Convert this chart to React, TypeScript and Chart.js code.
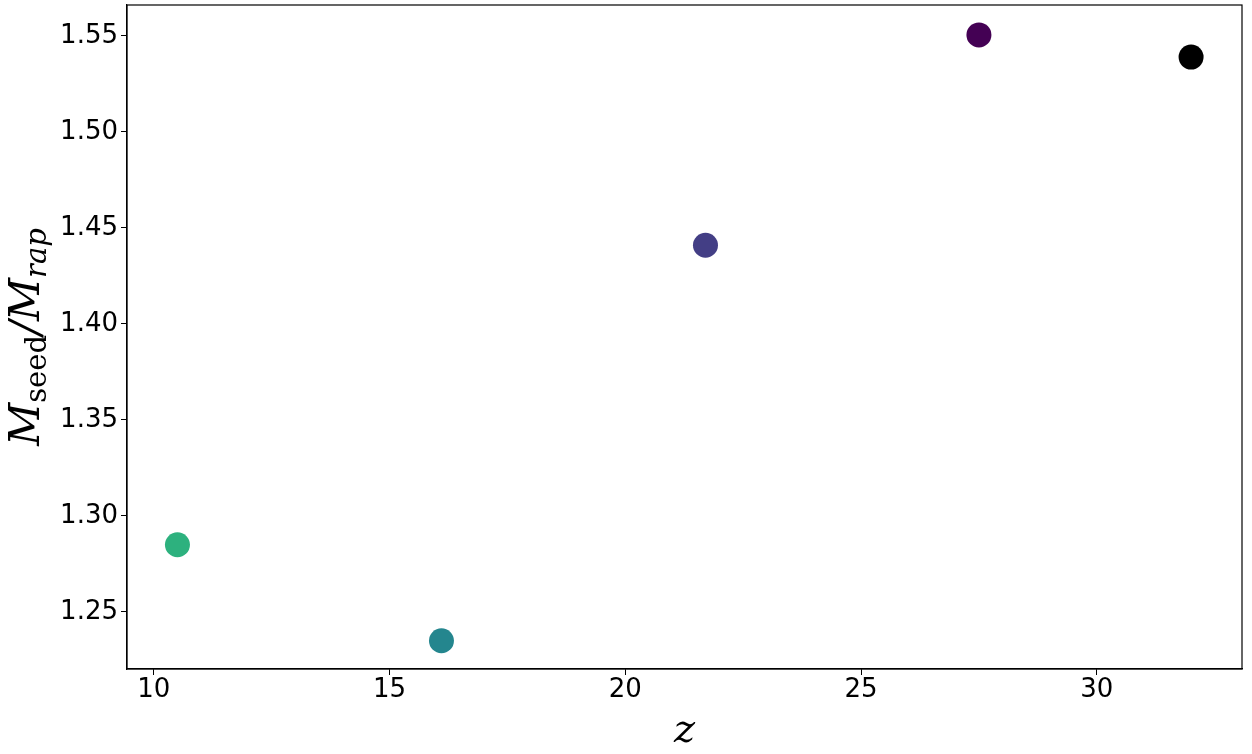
import React, { useEffect, useRef } from "react";
import { Chart, registerables } from "chart.js";

Chart.register(...registerables);

const zValues = [10.5, 16.1, 21.7, 27.5, 32.0];
const ratioValues = [1.285, 1.235, 1.441, 1.5505, 1.539];
const pointColors = ["#2db17e", "#24868e", "#433e85", "#440154", "#000000"];
const xTicks = [10, 15, 20, 25, 30];
const yTicks = [1.25, 1.3, 1.35, 1.4, 1.45, 1.5, 1.55];

const labelsPlugin = {
  id: "customLabels",
  afterDraw(chart: any) {
    const { ctx, chartArea } = chart;
    const { left, right, top, bottom } = chartArea;
    ctx.save();
    // frame
    ctx.strokeStyle = "#000";
    ctx.lineWidth = 1.2;
    ctx.strokeRect(left, top, right - left, bottom - top);

    // x label
    ctx.fillStyle = "#000";
    ctx.textAlign = "center";
    ctx.textBaseline = "alphabetic";
    ctx.font = "italic 40px 'DejaVu Serif', serif";
    ctx.fillText("z", (left + right) / 2, 742);

    // y label, rotated
    ctx.translate(25, (top + bottom) / 2);
    ctx.rotate(-Math.PI / 2);
    const parts = [
      { t: "M", f: "italic 42px 'DejaVu Serif', serif", dy: 0 },
      { t: "seed", f: "29px 'DejaVu Serif', serif", dy: 7 },
      { t: "/M", f: "italic 42px 'DejaVu Serif', serif", dy: 0 },
      { t: "rap", f: "italic 29px 'DejaVu Serif', serif", dy: 7 },
    ];
    let total = 0;
    for (const p of parts) {
      ctx.font = p.f;
      total += ctx.measureText(p.t).width;
    }
    let x = -total / 2;
    ctx.textAlign = "left";
    for (const p of parts) {
      ctx.font = p.f;
      ctx.fillText(p.t, x, 14 + p.dy);
      x += ctx.measureText(p.t).width;
    }
    ctx.restore();
  },
};

export default function App() {
  const canvasRef = useRef<HTMLCanvasElement | null>(null);

  useEffect(() => {
    if (!canvasRef.current) return;
    const chart = new Chart(canvasRef.current, {
      type: "scatter",
      data: {
        datasets: [
          {
            data: zValues.map((z, i) => ({ x: z, y: ratioValues[i] })),
            pointBackgroundColor: pointColors,
            pointBorderColor: pointColors,
            pointRadius: 12.5,
            pointHoverRadius: 12.5,
            borderWidth: 0,
            clip: false,
          },
        ],
      },
      options: {
        animation: false,
        responsive: false,
        maintainAspectRatio: false,
        layout: { autoPadding: false, padding: { left: 0, right: 10, top: 5, bottom: 0 } },
        plugins: { legend: { display: false }, tooltip: { enabled: false } },
        scales: {
          x: {
            type: "linear",
            min: 9.43,
            max: 33.08,
            afterBuildTicks: (axis: any) => {
              axis.ticks = xTicks.map((v) => ({ value: v }));
            },
            afterFit: (axis: any) => {
              axis.height = 85;
              axis.paddingLeft = 0;
              axis.paddingRight = 0;
            },
            ticks: {
              color: "#000",
              font: { family: "'DejaVu Sans', sans-serif", size: 26 },
              padding: 0,
              callback: (v: any) => String(v),
              maxRotation: 0,
            },
            grid: {
              display: true,
              drawOnChartArea: false,
              drawTicks: true,
              tickLength: 6,
              color: "#000",
            },
            border: { display: true, color: "#000", width: 1.2 },
          },
          y: {
            type: "linear",
            min: 1.2203,
            max: 1.5661,
            afterBuildTicks: (axis: any) => {
              axis.ticks = yTicks.map((v) => ({ value: v }));
            },
            afterFit: (axis: any) => {
              axis.width = 127;
              axis.paddingTop = 0;
              axis.paddingBottom = 0;
            },
            ticks: {
              color: "#000",
              font: { family: "'DejaVu Sans', sans-serif", size: 26 },
              padding: 3,
              callback: (v: any) => Number(v).toFixed(2),
            },
            grid: {
              display: true,
              drawOnChartArea: false,
              drawTicks: true,
              tickLength: 6,
              color: "#000",
            },
            border: { display: true, color: "#000", width: 1.2 },
          },
        },
      },
      plugins: [labelsPlugin],
    });
    return () => chart.destroy();
  }, []);

  return (
    <div style={{ position: "fixed", left: 0, top: 0, width: 1252, height: 754, background: "#fff" }}>
      <canvas ref={canvasRef} width={1252} height={754} style={{ width: 1252, height: 754 }} />
    </div>
  );
}
